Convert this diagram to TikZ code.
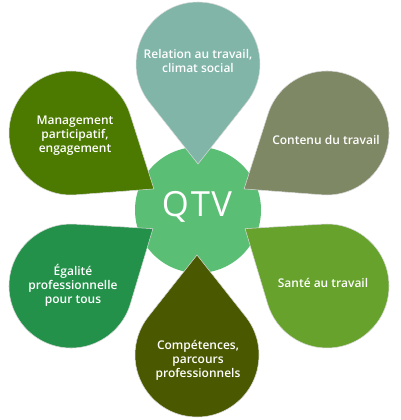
\documentclass[tikz,border=0pt]{standalone}
\usepackage{fontspec}
\setmainfont{Open Sans}
\IfFontExistsTF{Open Sans Semibold}{\newfontfamily\lblfont{Open Sans Semibold}}{%
  \IfFontExistsTF{Open Sans SemiBold}{\newfontfamily\lblfont{Open Sans SemiBold}}{%
    \newfontfamily\lblfont{Open Sans}}}
\usetikzlibrary{calc}
\definecolor{cTop}{HTML}{80B5A8}
\definecolor{cUR}{HTML}{7E8864}
\definecolor{cLR}{HTML}{66A22C}
\definecolor{cBot}{HTML}{4A5800}
\definecolor{cLL}{HTML}{23914A}
\definecolor{cUL}{HTML}{4C7A00}
\definecolor{cMid}{HTML}{5ABE74}
\newcommand\drawpetal[4]{%
  \path[petalshape, fill=#4] (#1,#2) ++(#3+51.7:62)
    arc[start angle=#3+51.7, end angle=#3+308.3, radius=62]
    -- ($(#1,#2)+(#3:100)$) -- cycle;}
\begin{document}
\begin{tikzpicture}[x=0.75pt,y=-0.75pt,
  petalshape/.style={draw=black!15, line width=0.4pt},
  lbl/.style={text=white, align=center, inner sep=0pt,
    font=\lblfont\fontsize{9}{10.5}\selectfont}]
\useasboundingbox (0,0) rectangle (400,420);
\fill[cMid] (198,210) circle[radius=63];
\drawpetal{198}{64}{90}{cTop}
\drawpetal{197}{355}{270}{cBot}
\drawpetal{71}{133}{34}{cUL}
\drawpetal{327}{133}{146}{cUR}
\drawpetal{71}{286}{-35}{cLL}
\drawpetal{327}{286}{215}{cLR}
\node[lbl] (rel) at (198,61) {Relation au travail,\\climat social};
\node[lbl] (man) at (75,136) {Management\\participatif,\\engagement};
\node[lbl] (con) at (326,140) {Contenu du travail};
\node[lbl] (ega) at (73,285) {Égalité\\professionnelle\\pour tous};
\node[lbl] (san) at (323,283) {Santé au travail};
\node[lbl] (com) at (198,360) {Compétences,\\parcours\\professionnels};
\node[text=white, inner sep=0pt, font=\fontsize{26}{26}\selectfont] (qtv) at (197,207) {Q\kern1.5pt T\kern1pt V};
\end{tikzpicture}
\end{document}
